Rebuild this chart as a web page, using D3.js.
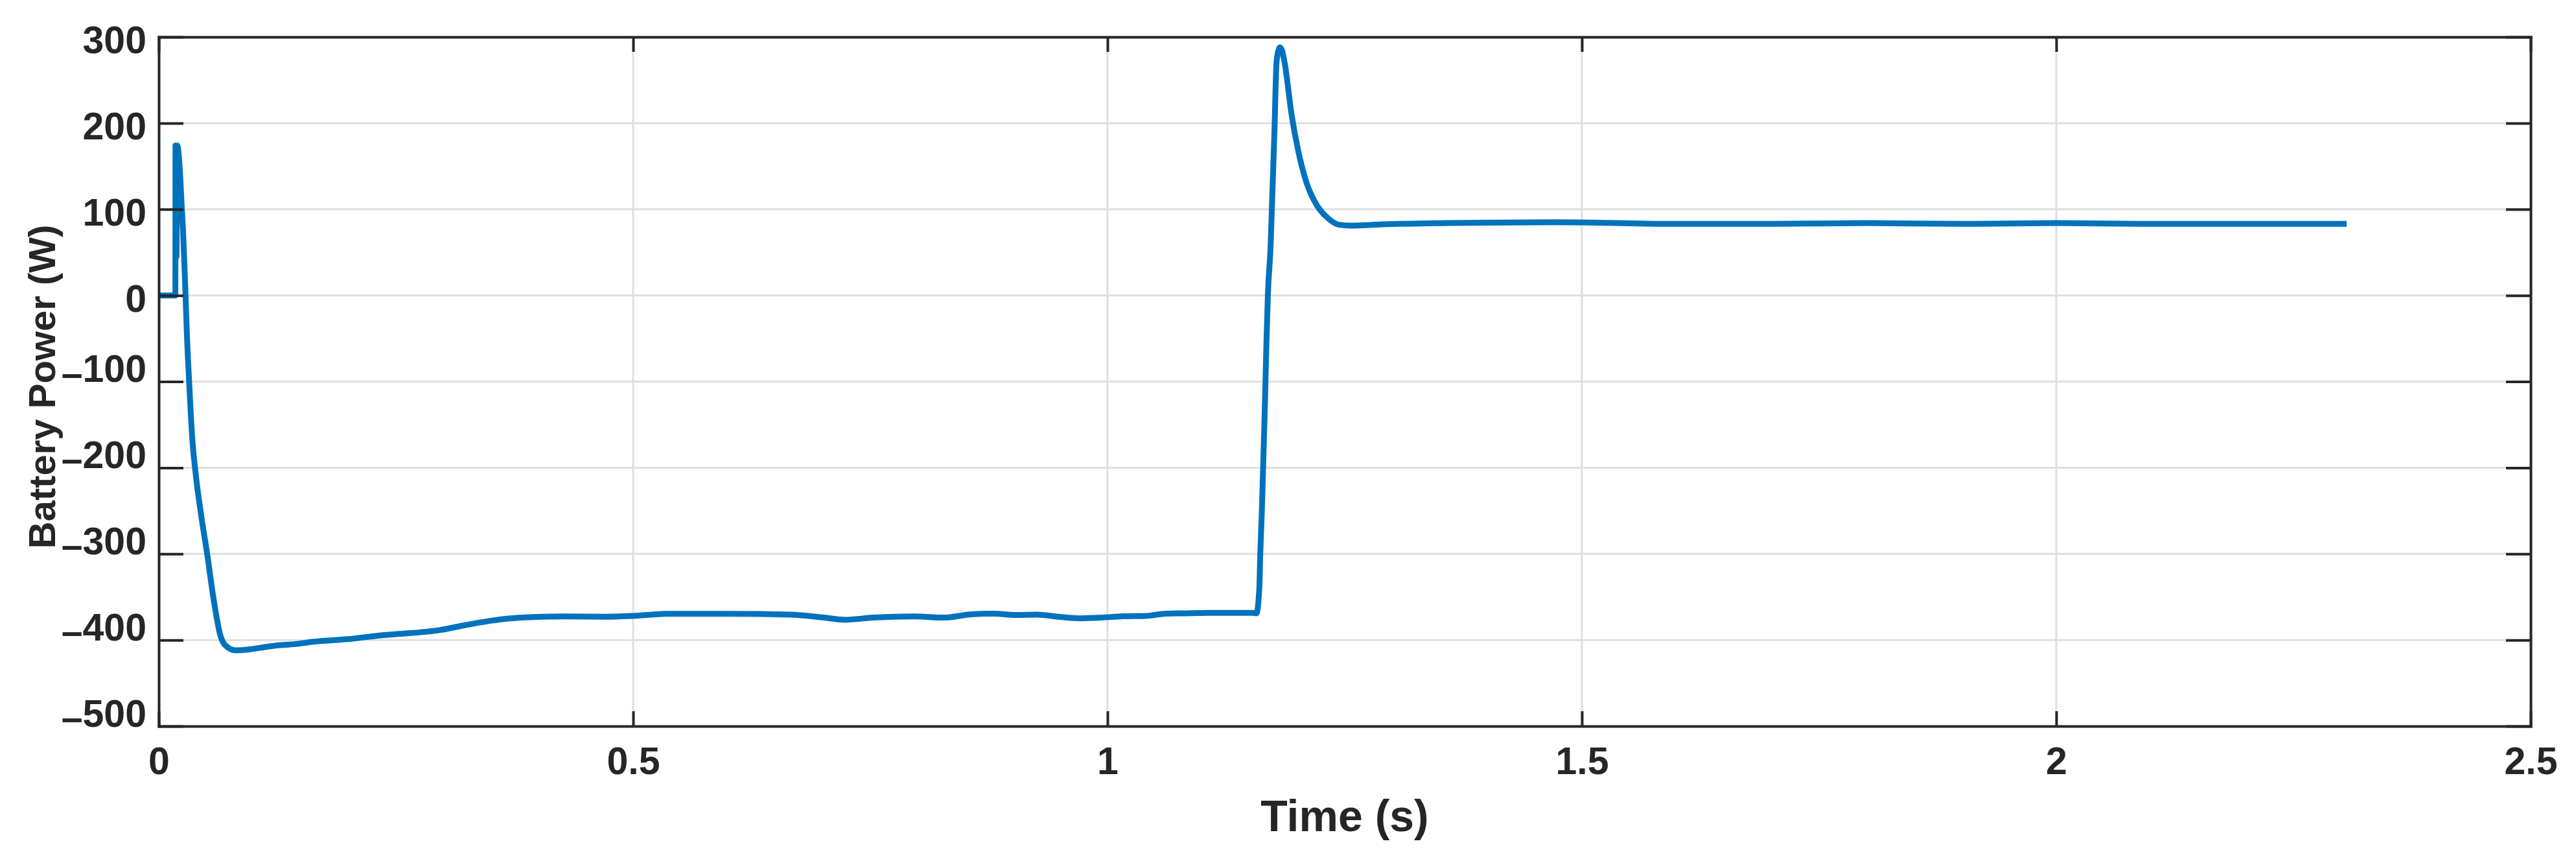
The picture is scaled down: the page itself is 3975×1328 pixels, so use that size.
<!DOCTYPE html>
<html><head><meta charset="utf-8">
<script src="https://cdn.jsdelivr.net/npm/d3@7"></script>
<style>
body{margin:0;background:#fff}
svg{display:block;font-family:"Liberation Sans",Arial,Helvetica,sans-serif;font-weight:bold}
</style>
</head><body>
<svg id="chart" width="3975" height="1328"></svg>
<script>
// ---- data ----
const timeS = [0, 0.0175, 0.0176, 0.0186, 0.0188, 0.0191, 0.0195, 0.0225, 0.0241, 0.0256, 0.028, 0.0296, 0.032, 0.0353, 0.039, 0.0444, 0.051, 0.058, 0.065, 0.072, 0.081, 0.095, 0.107, 0.128, 0.146, 0.163, 0.199, 0.24, 0.252, 0.296, 0.322, 0.348, 0.382, 0.426, 0.47, 0.5, 0.535, 0.6, 0.666, 0.701, 0.723, 0.753, 0.796, 0.827, 0.857, 0.88, 0.903, 0.926, 0.948, 0.971, 0.994, 1.016, 1.04, 1.062, 1.085, 1.108, 1.13, 1.153, 1.157, 1.160, 1.161, 1.1625, 1.164, 1.166, 1.1675, 1.169, 1.172, 1.1737, 1.176, 1.178, 1.180, 1.1817, 1.184, 1.187, 1.194, 1.201, 1.210, 1.221, 1.233, 1.244, 1.256, 1.29, 1.358, 1.472, 1.6, 1.7, 1.8, 1.9, 2.0, 2.1, 2.2, 2.306];
const powerW = [0, 0, 174, 168, 45, 160, 174, 140, 105, 75, 7, -44, -100, -166, -208, -253, -300, -354, -395, -408, -412, -411, -409, -406, -404.5, -402, -399, -394, -393, -388.5, -383, -378, -374, -372.7, -373, -372, -369.7, -369.7, -370.6, -374, -376.5, -374, -372.7, -374, -370.2, -369.4, -371, -370.5, -373, -374.8, -374, -372.5, -372, -369.4, -369, -368.4, -368.4, -368.4, -369, -340, -300, -256, -200, -122, -55, 0, 60, 117, 192, 268, 284, 288, 284, 268, 210, 168, 130, 104, 89, 82, 81, 82.5, 84, 85, 83, 83, 84, 83, 84, 83, 83, 83];
const xTicks = [0, 0.5, 1, 1.5, 2, 2.5];
const xTickLabels = ["0", "0.5", "1", "1.5", "2", "2.5"];
const yTicks = [-500, -400, -300, -200, -100, 0, 100, 200, 300];
const yTickLabels = ["\u2013500", "\u2013400", "\u2013300", "\u2013200", "\u2013100", "0", "100", "200", "300"];
const xLabel = "Time (s)";
const yLabel = "Battery Power (W)";

// ---- layout ----
const svg = d3.select("#chart");
const L = 245, R = 3905, T = 57, B = 1120;
const axisColor = "#262626", gridColor = "#dfdfdf", lineColor = "#0072BD";
const x = d3.scaleLinear().domain([0, 2.5]).range([L, R]);
const y = d3.scaleLinear().domain([-500, 300]).range([B, T]);

svg.append("rect").attr("width", 3975).attr("height", 1328).attr("fill", "#fff");

// grid
const grid = svg.append("g");
grid.selectAll("line.gx").data(xTicks).join("line")
  .attr("x1", d => x(d)).attr("x2", d => x(d)).attr("y1", T).attr("y2", B)
  .attr("stroke", gridColor).attr("stroke-width", 3);
grid.selectAll("line.gy").data(yTicks).join("line")
  .attr("y1", d => y(d)).attr("y2", d => y(d)).attr("x1", L).attr("x2", R)
  .attr("stroke", gridColor).attr("stroke-width", 3);

// data line
const pts = timeS.map((t, i) => [t, powerW[i]]);
svg.append("path").datum(pts)
  .attr("d", d3.line().curve(d3.curveMonotoneX).x(d => x(d[0])).y(d => y(d[1])))
  .attr("fill", "none").attr("stroke", lineColor).attr("stroke-width", 9)
  .attr("stroke-linejoin", "round");

// axes
function styleAxis(g) {
  g.selectAll(".domain").attr("stroke", axisColor).attr("stroke-width", 4).attr("stroke-linecap", "square");
  g.selectAll(".tick line").attr("stroke", axisColor).attr("stroke-width", 4);
  g.selectAll("text").attr("fill", axisColor).style("font-size", "59px").style("font-weight", "bold");
}
const gx = svg.append("g").attr("transform", `translate(0,${B})`)
  .call(d3.axisBottom(x).tickValues(xTicks).tickFormat((d, i) => xTickLabels[i]).tickSize(-23).tickSizeOuter(0).tickPadding(32));
styleAxis(gx);
gx.selectAll("text").attr("dy", "0.71em");

const gxt = svg.append("g").attr("transform", `translate(0,${T})`)
  .call(d3.axisTop(x).tickValues(xTicks).tickFormat("").tickSize(-23).tickSizeOuter(0));
styleAxis(gxt);

const gy = svg.append("g").attr("transform", `translate(${L},0)`)
  .call(d3.axisLeft(y).tickValues(yTicks).tickFormat((d, i) => yTickLabels[i]).tickSize(-38).tickSizeOuter(0).tickPadding(19));
styleAxis(gy);
gy.selectAll("text").attr("dy", "0.42em").each(function() {
  const s = d3.select(this).text();
  if (s.startsWith("\u2013")) {
    const el = d3.select(this).text("");
    el.append("tspan").attr("dy", "0.11em").text("\u2013");
    el.append("tspan").attr("dy", "-0.11em").text(s.slice(1));
  }
});

const gyr = svg.append("g").attr("transform", `translate(${R},0)`)
  .call(d3.axisRight(y).tickValues(yTicks).tickFormat("").tickSize(-38).tickSizeOuter(0));
styleAxis(gyr);

// labels
svg.append("text").attr("x", (L + R) / 2).attr("y", 1282)
  .attr("text-anchor", "middle").attr("fill", axisColor)
  .style("font-size", "68px").text(xLabel);
svg.append("text").attr("transform", `translate(85,${(T + B) / 2 + 8}) rotate(-90)`)
  .attr("text-anchor", "middle").attr("fill", axisColor)
  .style("font-size", "58px").text(yLabel);
</script>
</body></html>
